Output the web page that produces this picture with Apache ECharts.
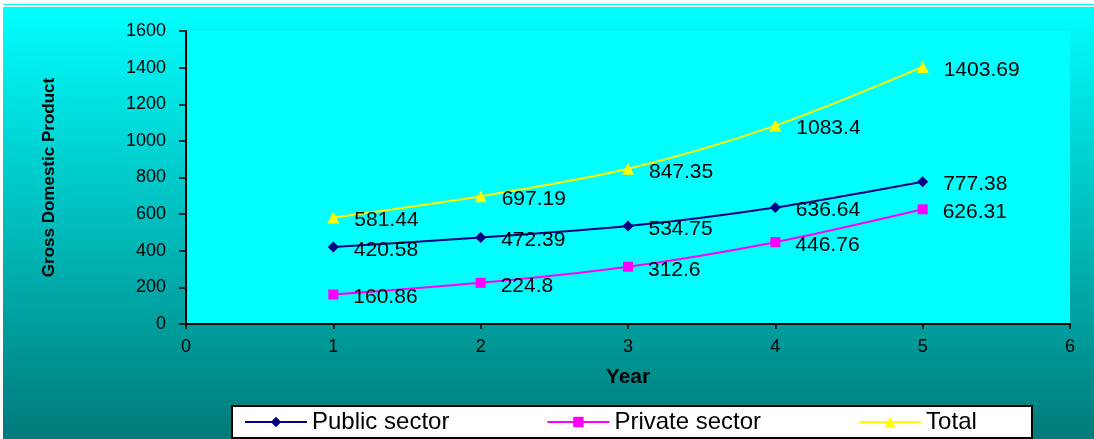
<!DOCTYPE html>
<html>
<head>
<meta charset="utf-8">
<style>
  html, body { margin: 0; padding: 0; background: #fff; }
  #chart { width: 1094px; height: 439px; }
</style>
<script src="https://cdn.jsdelivr.net/npm/echarts@6/dist/echarts.min.js"></script>
</head>
<body>
<div id="chart"></div>
<script>
// data
const years = [1, 2, 3, 4, 5]
const publicSector = [420.58, 472.39, 534.75, 636.64, 777.38]
const privateSector = [160.86, 224.8, 312.6, 446.76, 626.31]
const total = [581.44, 697.19, 847.35, 1083.4, 1403.69]
const yTicks = { min: 0, max: 1600, step: 200 }
const xTicks = { min: 0, max: 6, step: 1 }

const font = 'Liberation Sans, Arial, sans-serif'

function pairs(vals) {
  return years.map((y, i) => [y, vals[i]])
}

function makeSeries(name, vals, color, symbol, size) {
  return {
    name,
    type: 'line',
    data: pairs(vals),
    smooth: 0.3,
    symbol,
    symbolSize: size,
    lineStyle: { color, width: 2 },
    itemStyle: { color },
    label: {
      show: true,
      position: 'right',
      distance: 15,
      offset: [0, 3],
      color: '#000',
      fontSize: 21,
      fontFamily: font,
      formatter: p => String(p.value[1])
    },
    animation: false
  }
}

const chart = echarts.init(document.getElementById('chart'))
chart.setOption({
  backgroundColor: '#fff',
  graphic: [{
    type: 'rect',
    z: -10,
    shape: { x: 3, y: 7, width: 1091, height: 432 },
    style: {
      fill: new echarts.graphic.LinearGradient(0, 0, 0, 1, [
        { offset: 0, color: '#00ffff' },
        { offset: 1, color: '#007a7a' }
      ])
    }
  }, {
    type: 'rect',
    z: -10,
    shape: { x: 3, y: 4, width: 1091, height: 1 },
    style: { fill: '#00ffff' }
  }, {
    type: 'rect',
    z: 1,
    shape: { x: 232, y: 406, width: 800, height: 32 },
    style: { fill: '#fff', stroke: '#000', lineWidth: 2 }
  }],
  grid: {
    left: 186,
    right: 24,
    top: 31,
    bottom: 115,
    show: true,
    backgroundColor: '#00ffff',
    borderWidth: 0
  },
  legend: {
    left: 244,
    top: 410,
    padding: 0,
    itemGap: 97,
    itemWidth: 62,
    itemHeight: 13,
    z: 5,
    textStyle: { fontSize: 24, fontFamily: font, color: '#000' },
    data: ['Public sector', 'Private sector', 'Total']
  },
  xAxis: {
    type: 'value',
    min: xTicks.min,
    max: xTicks.max,
    interval: xTicks.step,
    name: 'Year',
    nameLocation: 'middle',
    nameGap: 43,
    nameTextStyle: { fontSize: 21, fontWeight: 'bold', fontFamily: font, color: '#000' },
    axisLine: { lineStyle: { color: '#000', width: 2 } },
    axisTick: { show: true, length: 5, lineStyle: { color: '#000', width: 1.5 } },
    axisLabel: { fontSize: 18, fontFamily: font, color: '#000', margin: 14 },
    splitLine: { show: false }
  },
  yAxis: {
    type: 'value',
    min: yTicks.min,
    max: yTicks.max,
    interval: yTicks.step,
    name: 'Gross Domestic Product',
    nameLocation: 'middle',
    nameRotate: 90,
    nameGap: 128,
    nameTextStyle: { fontSize: 17, fontWeight: 'bold', fontFamily: font, color: '#000' },
    axisLine: { show: true, lineStyle: { color: '#000', width: 2 } },
    axisTick: { show: true, length: 7, lineStyle: { color: '#000', width: 1.5 } },
    axisLabel: { fontSize: 18, fontFamily: font, color: '#000', margin: 20, formatter: v => String(v) },
    splitLine: { show: false }
  },
  series: [
    makeSeries('Public sector', publicSector, '#000080', 'diamond', 11),
    makeSeries('Private sector', privateSector, '#ff00ff', 'rect', 10),
    makeSeries('Total', total, '#ffff00', 'triangle', 12)
  ]
})
</script>
</body>
</html>
